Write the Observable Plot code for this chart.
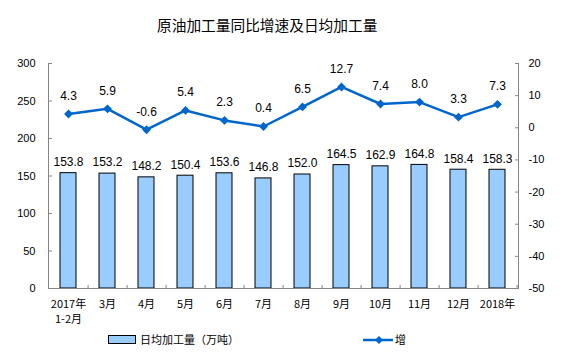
<!DOCTYPE html>
<html>
<head>
<meta charset="utf-8">
<script src="https://cdn.jsdelivr.net/npm/d3@7"></script>
<script src="https://cdn.jsdelivr.net/npm/@observablehq/plot@0.6"></script>
<style>
  body { margin: 0; background: #fff; }
  #wrap { position: relative; width: 562px; height: 358px; overflow: hidden; font-family: "Liberation Sans", Arial, "Noto Sans CJK SC", sans-serif; }
  #title { position: absolute; top: 14px; left: 157px; width: 220px; text-align: center; font-family: "Noto Sans CJK SC", sans-serif; font-size: 14.7px; line-height: 22px; color: #000; white-space: nowrap; }
  #chart { position: absolute; top: 48px; left: 0; }
  .lg { position: absolute; font-family: "Noto Sans CJK SC", sans-serif; font-size: 11px; color: #000; white-space: nowrap; line-height: 14px; }
</style>
</head>
<body>
<div id="wrap">
  <div id="title">原油加工量同比增速及日均加工量</div>
  <div id="chart"></div>
  <div class="lg" style="left:108px;top:335px;width:26px;height:7px;background:#99CCFF;border:1px solid #000;"></div>
  <div class="lg" style="left:140px;top:332px;">日均加工量（万吨）</div>
  <svg class="lg" style="left:363px;top:334px;" width="31" height="12"><line x1="0" y1="6" x2="30" y2="6" stroke="#0066CC" stroke-width="2.5"/><path d="M16,2 L20,6 L16,10 L12,6 Z" fill="#0066CC"/></svg>
  <div class="lg" style="left:395px;top:332px;">增</div>
</div>
<script>
const months = ["2017年\n1-2月", "3月", "4月", "5月", "6月", "7月", "8月", "9月", "10月", "11月", "12月", "2018年"];
const output = [153.8, 153.2, 148.2, 150.4, 153.6, 146.8, 152.0, 164.5, 162.9, 164.8, 158.4, 158.3];
const growth = [4.3, 5.9, -0.6, 5.4, 2.3, 0.4, 6.5, 12.7, 7.4, 8.0, 3.3, 7.3];
const leftTicks = [0, 50, 100, 150, 200, 250, 300];
const rightTicks = [-50, -40, -30, -20, -10, 0, 10, 20];

const rightMin = -50, rightMax = 20, leftMax = 300;
const toLeft = v => (v - rightMin) * leftMax / (rightMax - rightMin);
const fromLeft = d => Math.round(d * (rightMax - rightMin) / leftMax + rightMin);

const data = months.map((m, i) => ({m, v: output[i], g: growth[i], gy: toLeft(growth[i])}));

const W = 562, mL = 48, mR = 44;
const step = (W - mL - mR) / months.length;
const axisColor = "#868686";

const chart = Plot.plot({
  width: W,
  height: 277,
  marginTop: 15,
  marginBottom: 37,
  marginLeft: mL,
  marginRight: mR,
  style: {fontFamily: "'Liberation Sans', Arial, 'Noto Sans CJK SC', sans-serif", fontSize: "11px", color: "#000", background: "transparent"},
  x: {domain: months, paddingInner: 0.58, paddingOuter: 0.29, label: null},
  y: {domain: [0, leftMax], label: null},
  marks: [
    Plot.barY(data, {x: "m", y: "v", fill: "#99CCFF", stroke: "#000", strokeWidth: 1}),
    Plot.text(data, {x: "m", y: "v", text: d => d.v.toFixed(1), dy: -11, fontSize: 12, fill: "#000", lineAnchor: "middle"}),
    Plot.line(data, {x: "m", y: "gy", stroke: "#0066CC", strokeWidth: 2.5}),
    Plot.dot(data, {x: "m", y: "gy", symbol: "diamond2", r: 4, fill: "#0066CC", stroke: "none"}),
    Plot.text(data, {x: "m", y: "gy", text: d => d.g.toFixed(1), dy: -18, fontSize: 12, fill: "#000", lineAnchor: "middle"}),
    Plot.frame({anchor: "left", stroke: axisColor}),
    Plot.frame({anchor: "right", stroke: axisColor}),
    Plot.frame({anchor: "bottom", stroke: axisColor}),
    Plot.axisY(leftTicks, {anchor: "left", tickSize: 0, tickPadding: 13, fontSize: 11, fill: "#000"}),
    Plot.axisY(leftTicks, {anchor: "left", tickSize: 4, dx: 4, stroke: axisColor, tickFormat: () => ""}),
    Plot.axisY(rightTicks.map(toLeft), {anchor: "right", tickSize: 0, tickPadding: 10, fontSize: 11, fill: "#000", tickFormat: fromLeft}),
    Plot.axisY(rightTicks.map(toLeft), {anchor: "right", tickSize: 4, dx: -4, stroke: axisColor, tickFormat: () => ""}),
    Plot.axisX({tickSize: 0, tickPadding: 9, fontSize: 11, fill: "#000", lineHeight: 1.36, fontFamily: "'Noto Sans CJK SC', sans-serif"}),
    Plot.axisX({tickSize: 3, dx: step / 2, dy: -3, stroke: axisColor, tickFormat: () => ""})
  ]
});
document.getElementById("chart").appendChild(chart);
</script>
</body>
</html>
